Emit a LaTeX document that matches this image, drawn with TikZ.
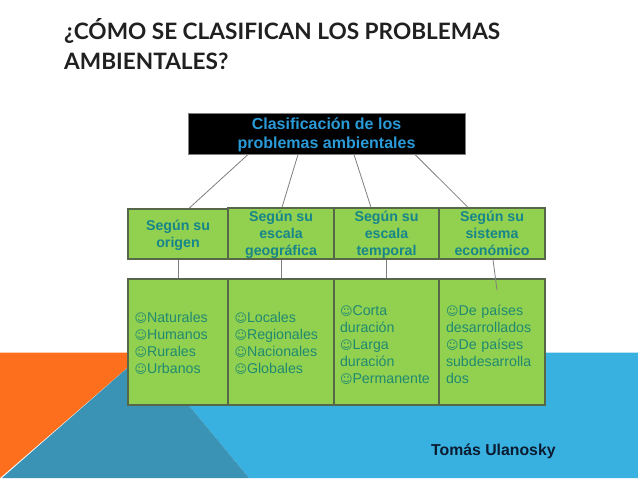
\documentclass[tikz,border=0pt]{standalone}
\usepackage{fontspec}
\usepackage{xcolor}
\setmainfont{Liberation Sans}
\newfontfamily\titlefont{Lato Bold}
\newfontfamily\smileyfont{DejaVu Sans}
\definecolor{SlideOrange}{HTML}{FD6F1C}
\definecolor{SlideBlue}{HTML}{38B0E0}
\definecolor{SlideTeal}{HTML}{3A93B5}
\definecolor{BoxGreen}{HTML}{92D050}
\definecolor{BoxEdge}{HTML}{56674A}
\definecolor{HeadTeal}{HTML}{17868A}
\definecolor{ItemTeal}{HTML}{1F8A70}
\definecolor{RootBlue}{HTML}{2A9BD8}
\definecolor{LinkGray}{HTML}{7F7F7F}
\definecolor{TitleGray}{HTML}{202020}
\definecolor{FirmaNavy}{HTML}{0B1B30}
\newcommand{\smiley}{{\smileyfont\fontsize{12}{17}\selectfont\char"263A}}
\tikzset{
  headbox/.style={draw=BoxEdge, fill=BoxGreen, line width=1.3pt, align=center,
    text=HeadTeal, font=\fontsize{14.2}{17}\selectfont\bfseries, inner sep=0pt, text depth=-4pt},
  itembox/.style={draw=BoxEdge, fill=BoxGreen, line width=1.3pt, align=left,
    text=ItemTeal, font=\fontsize{14.2}{17}\selectfont, inner sep=0pt, minimum height=126pt},
  link/.style={draw=LinkGray, line width=0.8pt}
}
\begin{document}
\begin{tikzpicture}[x=1pt,y=-1pt]
  \useasboundingbox (0,0) rectangle (638,479);
  % slide background
  \fill[white] (0,0) rectangle (638,479);
  \fill[SlideBlue] (145,352.5) -- (638,352.5) -- (638,478) -- (249,478) -- cycle;
  \fill[SlideOrange] (0,352.5) -- (145,352.5) -- (0,478) -- cycle;
  \fill[SlideTeal] (2,478) -- (145,352.5) -- (249,478) -- cycle;
  % title
  \node[anchor=base west, inner sep=0pt, text=TitleGray, align=left,
        font=\titlefont\fontsize{22.6}{30}\selectfont] (title) at (64,69.3)
    {¿CÓMO SE CLASIFICAN LOS PROBLEMAS\\AMBIENTALES?};
  % root
  \node[draw=LinkGray, fill=black, line width=1pt, minimum width=277pt, minimum height=41pt,
        inner sep=0pt, align=center, text=RootBlue, text depth=-3pt,
        font=\fontsize{16}{19}\selectfont\bfseries] (root) at (326.5,133.5)
    {Clasificación de los\\problemas ambientales};
  % upper row
  \node[headbox, minimum width=100pt, minimum height=50pt] (origen) at (178,234)
    {Según su\\origen};
  \node[headbox, minimum width=106pt, minimum height=51pt] (escala) at (281,233.5)
    {Según su\\escala\\geográfica};
  \node[headbox, minimum width=105pt, minimum height=51pt] (temporal) at (386.5,233.5)
    {Según su\\escala\\temporal};
  \node[headbox, minimum width=106pt, minimum height=51pt] (sistema) at (492,233.5)
    {Según su\\sistema\\económico};
  % lower row
  \node[itembox, minimum width=100pt, text width=87pt, text depth=50pt] (origenlist) at (178,342)
    {\smiley Naturales\\\smiley Humanos\\\smiley Rurales\\\smiley Urbanos};
  \node[itembox, minimum width=106pt, text width=93pt, text depth=50pt] (escalalist) at (281,342)
    {\smiley Locales\\\smiley Regionales\\\smiley Nacionales\\\smiley Globales};
  \node[itembox, minimum width=105pt, text width=93pt, text depth=63pt] (temporallist) at (386.5,342)
    {\smiley Corta\\duración\\\smiley Larga\\duración\\\smiley Permanente};
  \node[itembox, minimum width=106pt, text width=92pt, text depth=63pt] (sistemalist) at (492,342)
    {\smiley De países\\desarrollados\\\smiley De países\\subdesarrolla\\dos};
  % connectors
  \draw[link] ([xshift=-78.5pt]root.south) -- ([xshift=11pt]origen.north);
  \draw[link] ([xshift=-28.5pt]root.south) -- ([xshift=1pt]escala.north);
  \draw[link] ([xshift=27.5pt]root.south) -- ([xshift=-15.5pt]temporal.north);
  \draw[link] ([xshift=88.5pt]root.south) -- ([xshift=-24pt]sistema.north);
  \draw[link] (origen.south) -- (origenlist.north);
  \draw[link] (escala.south) -- (escalalist.north);
  \draw[link] (temporal.south) -- (temporallist.north);
  \coordinate (sistemaend) at (497,290);
  \draw[link] ([xshift=1pt]sistema.south) -- (sistemaend);
  % signature
  \node[anchor=base west, inner sep=0pt, text=FirmaNavy, font=\fontsize{15.8}{19}\selectfont\bfseries] (firma) at (431,455)
    {Tomás Ulanosky};
\end{tikzpicture}
\end{document}
